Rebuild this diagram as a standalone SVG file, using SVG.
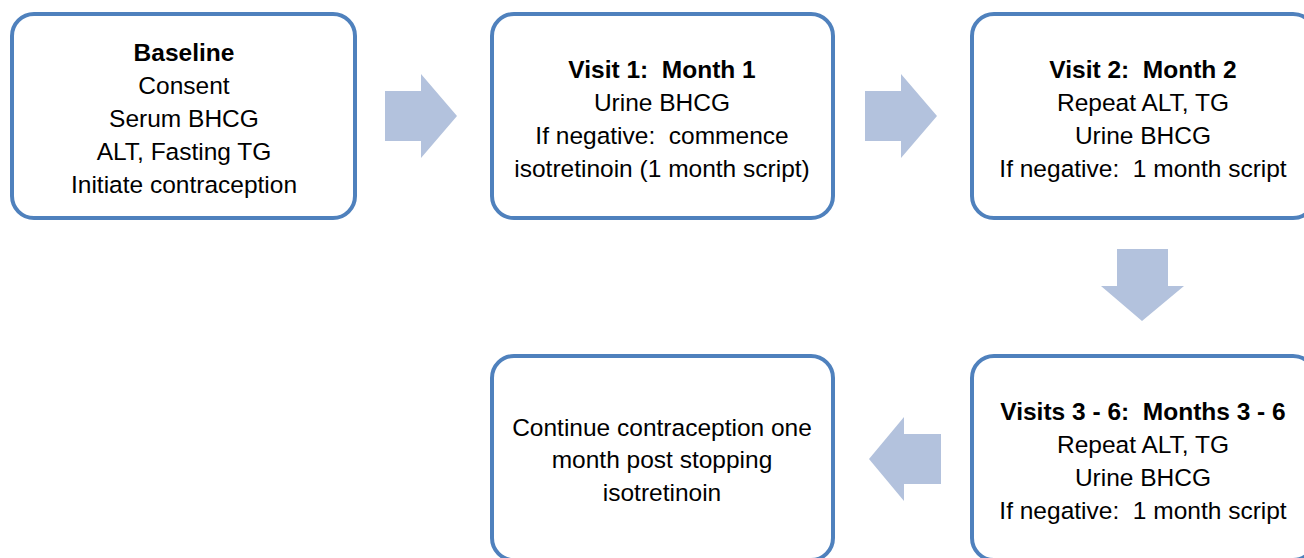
<svg xmlns="http://www.w3.org/2000/svg" width="1304" height="558" viewBox="0 0 1304 558">
<style>
.box{fill:#fff;stroke:#4F81BD;stroke-width:4}
.arr{fill:#B3C2DD;stroke:none}
text{font-family:"Liberation Sans",Arial,sans-serif;font-size:24.5px;fill:#000;text-anchor:middle;white-space:pre}
.b{font-weight:bold}
</style>
<rect width="1304" height="558" fill="#fff"/>
<g id="connectors">
<polygon class="arr" points="385,91 421,91 421,74 457,116 421,158 421,141 385,141"/>
<polygon class="arr" points="865,91 901,91 901,74 937,116 901,158 901,141 865,141"/>
<polygon class="arr" points="1117,249 1168,249 1168,286 1184,286 1142,321 1101,286 1117,286"/>
<polygon class="arr" points="941,434 904,434 904,417 869,459 904,501 904,484 941,484"/>
</g>
<g id="baseline">
<rect class="box" x="12" y="14" width="343" height="204" rx="22"/>
<text x="184" y="61" class="b">Baseline</text>
<text x="184" y="94">Consent</text>
<text x="184" y="127">Serum BHCG</text>
<text x="184" y="160">ALT, Fasting TG</text>
<text x="184" y="193">Initiate contraception</text>
</g>
<g id="visit1">
<rect class="box" x="492" y="14" width="341" height="204" rx="22"/>
<text x="662" y="78" class="b" xml:space="preserve">Visit 1:  Month 1</text>
<text x="662" y="111">Urine BHCG</text>
<text x="662" y="144" xml:space="preserve">If negative:  commence</text>
<text x="662" y="177">isotretinoin (1 month script)</text>
</g>
<g id="visit2">
<rect class="box" x="972" y="14" width="343" height="204" rx="22"/>
<text x="1143" y="78" class="b" xml:space="preserve">Visit 2:  Month 2</text>
<text x="1143" y="111">Repeat ALT, TG</text>
<text x="1143" y="144">Urine BHCG</text>
<text x="1143" y="177" xml:space="preserve">If negative:  1 month script</text>
</g>
<g id="visits3to6">
<rect class="box" x="972" y="356" width="343" height="204" rx="22"/>
<text x="1143" y="420" class="b" xml:space="preserve">Visits 3 - 6:  Months 3 - 6</text>
<text x="1143" y="453">Repeat ALT, TG</text>
<text x="1143" y="486">Urine BHCG</text>
<text x="1143" y="519" xml:space="preserve">If negative:  1 month script</text>
</g>
<g id="continue">
<rect class="box" x="492" y="356" width="341" height="204" rx="22"/>
<text x="662" y="436">Continue contraception one</text>
<text x="662" y="468">month post stopping</text>
<text x="662" y="501">isotretinoin</text>
</g>
</svg>
